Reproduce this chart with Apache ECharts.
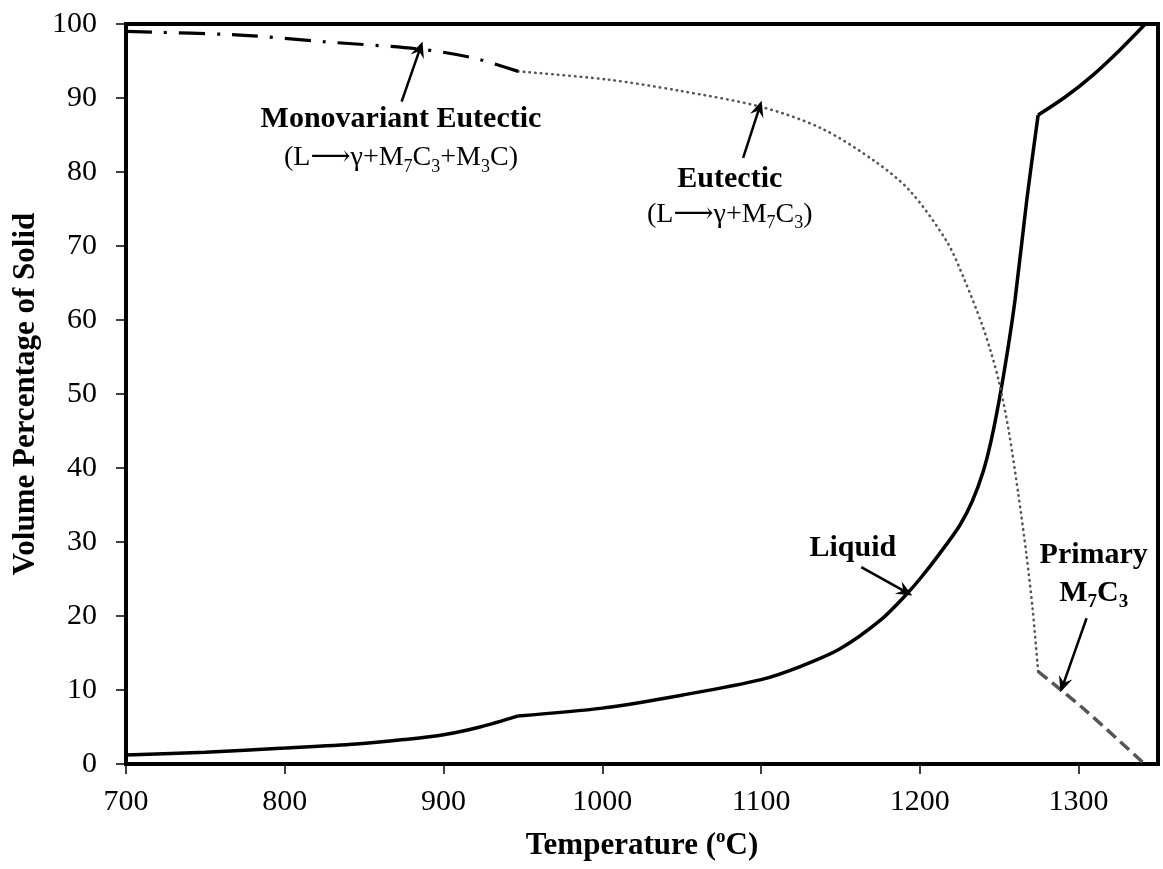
<!DOCTYPE html>
<html>
<head>
<meta charset="utf-8">
<script src="https://cdn.jsdelivr.net/npm/echarts@6/dist/echarts.min.js"></script>
<style>
  html, body { margin: 0; padding: 0; background: #fff; }
  #chart { width: 1163px; height: 869px; }
</style>
</head>
<body>
<div id="chart"></div>
<script>
// ---- data (temperature °C, volume % solid) ----
const xTicks = [700, 800, 900, 1000, 1100, 1200, 1300];
const yTicks = [0, 10, 20, 30, 40, 50, 60, 70, 80, 90, 100];

const liquidLow = [[700, 1.2], [750, 1.6], [800, 2.15], [845, 2.7], [875, 3.3], [900, 3.95], [923, 5.0], [947, 6.5]];
const liquidMid = [[947, 6.5], [1000, 7.55], [1050, 9.3], [1100, 11.4], [1125, 13.2], [1150, 15.6], [1175, 19.4], [1191, 22.8],
                   [1200, 25.0], [1212, 28.3], [1225, 32.2], [1233, 35.5], [1240, 39.6], [1245, 43.8], [1250, 49.2],
                   [1255, 55.5], [1260, 62.8], [1267.4, 76.3], [1274.5, 87.7]];
const liquidHigh = [[1274.5, 87.7], [1292, 90.2], [1309, 93.1], [1326, 96.5], [1342, 100]];

const eutectic = [[947, 93.6], [1003, 92.5], [1048, 91.0], [1100, 88.8], [1138, 85.9], [1172, 81.4], [1194, 77.4],
                  [1217, 70.6], [1228, 65.5], [1239, 59.5], [1245, 55.5], [1250, 51.5], [1256, 45], [1262, 36.5],
                  [1267, 28.5], [1271, 21], [1274.5, 12.5]];
const monovariant = [[700, 99.0], [772, 98.5], [825, 97.6], [885.5, 96.6], [919, 95.4], [947, 93.6]];
const primaryM7C3 = [[1274.5, 12.5], [1303, 7.5], [1341.5, 0]];

// annotation anchors (data coords)
const arrows = [
  [[873.6, 89.5], [885.1, 96.6]],
  [[1088.7, 81.9], [1098.8, 88.6]],
  [[1163.1, 26.6], [1190.8, 23.3]],
  [[1305, 19.7], [1290.2, 10.7]]
];
const notes = [
  { at: [873.2, 84.5], text: '{b|Monovariant Eutectic}\n{r|(L⟶γ+M}{s|7}{r|C}{s|3}{r|+M}{s|3}{r|C)}' },
  { at: [1080.3, 76.6], text: '{b2|Eutectic}\n{r2|(L⟶γ+M}{s|7}{r2|C}{s|3}{r2|)}' },
  { at: [1157.8, 29.1], text: '{b|Liquid}' },
  { at: [1309.5, 25.7], text: '{b|Primary}\n{b|M}{bs|7}{b|C}{bs|3}' }
];

const FONT = "'Liberation Serif', 'DejaVu Serif', serif";
const rich = {
  b: { fontFamily: FONT, fontWeight: 'bold', fontSize: 30, lineHeight: 38, color: '#000' },
  r: { fontFamily: FONT, fontSize: 28, lineHeight: 38, color: '#000' },
  b2: { fontFamily: FONT, fontWeight: 'bold', fontSize: 30, lineHeight: 35, color: '#000' },
  r2: { fontFamily: FONT, fontSize: 28, lineHeight: 35, color: '#000' },
  s: { fontFamily: FONT, fontSize: 18, lineHeight: 14, verticalAlign: 'bottom', color: '#000' },
  bs: { fontFamily: FONT, fontWeight: 'bold', fontSize: 19, lineHeight: 14, verticalAlign: 'bottom', color: '#000' }
};
const arrowHead = 'path://M0,14 L7,0 L14,14 L7,9 Z';

const chart = echarts.init(document.getElementById('chart'), null, { renderer: 'canvas' });
const lineBase = { type: 'line', showSymbol: false, symbol: 'none', silent: true, animation: false, z: 3 };
const plain = v => String(v);

chart.setOption({
  animation: false,
  backgroundColor: '#fff',
  grid: { left: 126, right: 5, top: 24, bottom: 103, show: true, borderColor: '#000', borderWidth: 4, containLabel: false },
  xAxis: {
    type: 'value', min: 700, max: 1350, interval: 100,
    name: 'Temperature ({sup|o}C)', nameLocation: 'middle', nameGap: 64,
    nameTextStyle: { fontFamily: FONT, fontWeight: 'bold', fontSize: 31, color: '#000', lineHeight: 36,
      rich: { sup: { fontFamily: FONT, fontWeight: 'bold', fontSize: 19, lineHeight: 22, verticalAlign: 'top', color: '#000' } } },
    axisLine: { show: false },
    axisTick: { show: true, inside: false, length: 10, customValues: xTicks, lineStyle: { color: '#000', width: 1.5 } },
    axisLabel: { show: true, customValues: xTicks, formatter: plain, margin: 23, fontFamily: FONT, fontSize: 30, color: '#000' },
    splitLine: { show: false }
  },
  yAxis: {
    type: 'value', min: 0, max: 100, interval: 10,
    name: 'Volume Percentage of Solid', nameLocation: 'middle', nameGap: 77,
    nameTextStyle: { fontFamily: FONT, fontWeight: 'bold', fontSize: 31, color: '#000' },
    axisLine: { show: false },
    axisTick: { show: true, inside: false, length: 10, customValues: yTicks, lineStyle: { color: '#000', width: 1.5 } },
    axisLabel: { show: true, customValues: yTicks, formatter: plain, margin: 29, fontFamily: FONT, fontSize: 30, color: '#000' },
    splitLine: { show: false }
  },
  series: [
    Object.assign({}, lineBase, { name: 'Liquid low', data: liquidLow, smooth: 0.3,
      lineStyle: { color: '#000', width: 3.5 } }),
    Object.assign({}, lineBase, { name: 'Liquid', data: liquidMid, smooth: 0.3,
      lineStyle: { color: '#000', width: 3.5 } }),
    Object.assign({}, lineBase, { name: 'Liquid high', data: liquidHigh, smooth: 0.3,
      lineStyle: { color: '#000', width: 3.5 } }),
    Object.assign({}, lineBase, { name: 'Eutectic', data: eutectic, smooth: 0.3,
      lineStyle: { color: '#555', width: 2.6, type: [0.5, 5.2], cap: 'round' } }),
    Object.assign({}, lineBase, { name: 'Monovariant Eutectic', data: monovariant, smooth: 0.3,
      lineStyle: { color: '#000', width: 3.2, type: [26, 12, 3, 12] } }),
    Object.assign({}, lineBase, { name: 'Primary M7C3', data: primaryM7C3, smooth: 0.3,
      lineStyle: { color: '#555', width: 3.5, type: [12, 6] } }),
    {
      type: 'scatter', name: 'annotations', data: [], silent: true, animation: false, z: 5,
      markLine: {
        silent: true, animation: false,
        symbol: ['none', arrowHead], symbolSize: [14, 16],
        label: { show: false },
        lineStyle: { color: '#000', width: 2.5, type: 'solid' },
        emphasis: { disabled: true },
        data: arrows.map(a => [{ coord: a[0] }, { coord: a[1] }])
      },
      markPoint: {
        silent: true, animation: false, symbol: 'circle', symbolSize: 0,
        label: { show: true, position: 'inside', align: 'center', verticalAlign: 'middle', rich: rich },
        data: notes.map(n => ({ coord: n.at, label: { formatter: n.text } }))
      }
    }
  ]
});
</script>
</body>
</html>
